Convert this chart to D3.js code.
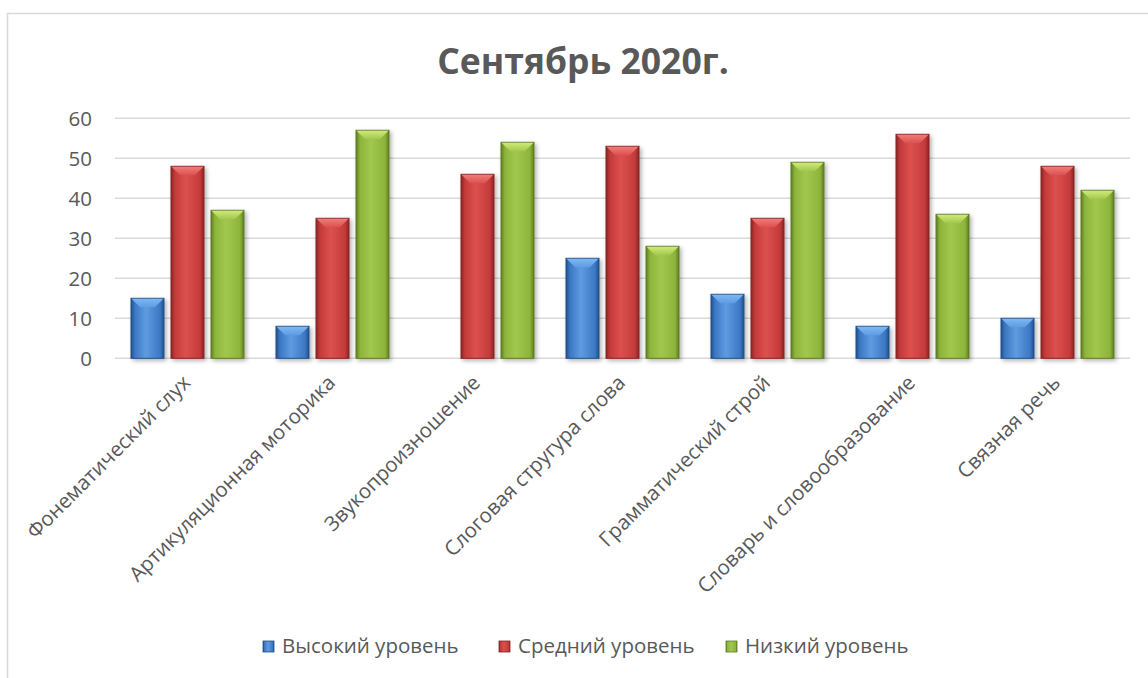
<!DOCTYPE html>
<html><head><meta charset="utf-8">
<script src="https://cdn.jsdelivr.net/npm/d3@7/dist/d3.min.js"></script>
<style>
html,body{margin:0;padding:0;background:#fff;}
svg{display:block;font-family:"Open Sans",Lato,sans-serif;}
</style></head><body>
<svg id="c" width="1148" height="678"></svg>
<script>
const categories = ["Фонематический слух","Артикуляционная моторика","Звукопроизношение","Слоговая стругура слова","Грамматический строй","Словарь и словообразование","Связная речь"];
const seriesNames = ["Высокий уровень","Средний уровень","Низкий уровень"];
const highLevel = [15, 8, 0, 25, 16, 8, 10];
const midLevel = [48, 35, 46, 53, 35, 56, 48];
const lowLevel = [37, 57, 54, 28, 49, 36, 42];
const yTicks = [0, 10, 20, 30, 40, 50, 60];
const title = "Сентябрь 2020г.";

const seriesValues = [highLevel, midLevel, lowLevel];
const colors = [
  {base:"#3b78c4", light:"#5f9be0", dark:"#234f8a", top:"#7cb7f5"},
  {base:"#c43a3a", light:"#dc504f", dark:"#892424", top:"#f07b78"},
  {base:"#8db43c", light:"#a2c74c", dark:"#5f7d22", top:"#cfea78"}
];

const svg = d3.select("#c");
const defs = svg.append("defs");
colors.forEach((c,i)=>{
  const g = defs.append("linearGradient").attr("id","g"+i).attr("x1","0").attr("x2","1").attr("y1","0").attr("y2","0");
  g.append("stop").attr("offset","0").attr("stop-color",c.dark);
  g.append("stop").attr("offset","0.12").attr("stop-color",c.base);
  g.append("stop").attr("offset","0.45").attr("stop-color",c.light);
  g.append("stop").attr("offset","0.88").attr("stop-color",c.base);
  g.append("stop").attr("offset","1").attr("stop-color",c.dark);
  const t = defs.append("linearGradient").attr("id","t"+i).attr("x1","0").attr("x2","0").attr("y1","0").attr("y2","1");
  t.append("stop").attr("offset","0").attr("stop-color",c.top);
  t.append("stop").attr("offset","1").attr("stop-color",c.light);
});
const f = defs.append("filter").attr("id","sh").attr("x","-20%").attr("y","-20%").attr("width","150%").attr("height","150%");
f.append("feDropShadow").attr("dx",2).attr("dy",2).attr("stdDeviation",2).attr("flood-color","#000").attr("flood-opacity",0.3);

// frame
svg.append("rect").attr("x",7.5).attr("y",13.5).attr("width",1200).attr("height",700)
  .attr("fill","none").attr("stroke","#d9d9d9").attr("stroke-width",1.5);

const x0 = d3.scaleBand().domain(categories).range([115,1130]).paddingInner(0).paddingOuter(0);
const x1 = d3.scaleBand().domain(seriesNames).range([0,x0.bandwidth()]).paddingInner(0.175).paddingOuter(0.4);
const y = d3.scaleLinear().domain([0,60]).range([358.3,118.3]);

// gridlines
svg.append("g").selectAll("line").data(yTicks).join("line")
  .attr("x1",115).attr("x2",1130).attr("y1",d=>y(d)).attr("y2",d=>y(d))
  .attr("stroke","#d9d9d9").attr("stroke-width",1.5);

// y axis labels
const yAxis = d3.axisLeft(y).tickValues(yTicks).tickSize(0).tickPadding(0);
const ya = svg.append("g").attr("transform","translate(92,1)").call(yAxis);
ya.select(".domain").remove();
ya.selectAll("text").attr("font-size",20.5).attr("fill","#595959").attr("font-family","'Open Sans',Lato,sans-serif");

// bars
const groups = svg.append("g").selectAll("g").data(categories).join("g")
  .attr("transform",d=>`translate(${x0(d)},0)`);
groups.each(function(cat,ci){
  const g = d3.select(this);
  seriesNames.forEach((s,si)=>{
    const v = seriesValues[si][ci];
    if(!v) return;
    const bx = x1(s), bw = x1.bandwidth(), by = y(v), bh = y(0)-y(v);
    const bg = g.append("g").attr("filter","url(#sh)");
    bg.append("rect").attr("x",bx).attr("y",by).attr("width",bw).attr("height",bh)
      .attr("fill",`url(#g${si})`).attr("stroke",colors[si].dark).attr("stroke-width",1);
    const bev = Math.min(9, bh/2);
    bg.append("polygon")
      .attr("points",`${bx+0.5},${by+0.5} ${bx+bw-0.5},${by+0.5} ${bx+bw*0.72},${by+bev} ${bx+bw*0.28},${by+bev}`)
      .attr("fill",`url(#t${si})`);
  });
});

// category labels
svg.append("g").selectAll("text").data(categories).join("text")
  .attr("transform",d=>`translate(${x0(d)+x0.bandwidth()/2+4},${384}) rotate(-45)`)
  .attr("text-anchor","end").attr("font-size",20.5).attr("fill","#595959")
  .text(d=>d);

// title
svg.append("text").attr("x",583).attr("y",74).attr("text-anchor","middle")
  .attr("font-size",35.5).attr("font-weight","bold").attr("fill","#595959").text(title);

// legend
const legX = [263, 499, 726];
const leg = svg.append("g").selectAll("g").data(seriesNames).join("g")
  .attr("transform",(d,i)=>`translate(${legX[i]},646)`);
leg.append("rect").attr("x",0).attr("y",-5).attr("width",11).attr("height",11)
  .attr("fill",(d,i)=>`url(#g${i})`).attr("stroke",(d,i)=>colors[i].dark).attr("stroke-width",0.8);
leg.append("text").attr("x",19).attr("y",0).attr("dy","0.35em").attr("font-size",20.5).attr("fill","#595959").text(d=>d);
</script>
</body></html>
